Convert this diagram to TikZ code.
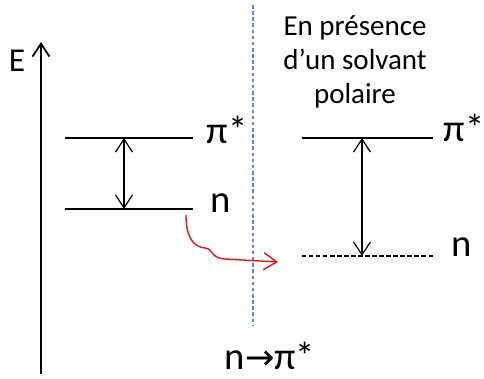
\documentclass[tikz,border=0pt]{standalone}
\usepackage{fontspec}
\setmainfont{Carlito}
\newfontfamily\symfont{DejaVu Sans}
\usepackage{tikz}
\usetikzlibrary{arrows.meta,calc,positioning}
\definecolor{solvblue}{RGB}{68,114,196}
\definecolor{transred}{RGB}{235,20,20}

\begin{document}
\begin{tikzpicture}[x=0.02cm,y=-0.02cm,
    level/.style={draw=black,line width=0.7pt},
    barb/.tip={Straight Barb[length=2.6mm,width=3.4mm]},
    big/.style={font=\fontsize{22}{26}\selectfont,inner sep=0pt}]
        \useasboundingbox (0,0) rectangle (484,379);
        \def\xa{65}
        \def\xb{193}
        \def\xc{302}
        \def\xd{433}
        %Levels
        \coordinate (pl1) at (\xa,138);
        \coordinate (pl2) at (\xb,138);
        \coordinate (nl1) at (\xa,209);
        \coordinate (nl2) at (\xb,209);
        \coordinate (pr1) at (\xc,138);
        \coordinate (pr2) at (\xd,138);
        \coordinate (nr1) at (\xc,256);
        \coordinate (nr2) at (\xd,256);
        \coordinate (al) at (124,138);
        \coordinate (bl) at (124,209);
        \coordinate (ar) at (362,138);
        \coordinate (br) at (362,256);
        %Axis
        \coordinate (e0) at (41,374);
        \coordinate (e1) at (41,42);
        \draw[line width=1pt,-barb] (e0) -- (e1);
        \node[font=\fontsize{19}{22}\selectfont,inner sep=0pt] (elab) at (17,61) {E};
        %Separator
        \coordinate (s0) at (253,5);
        \coordinate (s1) at (253,325);
        \draw[solvblue!85,line width=0.7pt,dash pattern=on 2pt off 1.5pt] (s0) -- (s1);
        \node[align=center,font=\fontsize{16.5}{19.5}\selectfont,inner sep=0pt] (solv) at (355,62)
          {\fontsize{16.5}{19.5}\selectfont En présence\\d’un solvant\\polaire};
        %Draw levels
        \draw[level] (pl1) -- (pl2);
        \draw[level,line width=1.3pt] (nl1) -- (nl2);
        \draw[level] (pr1) -- (pr2);
        \draw[level,dash pattern=on 2.5pt off 1.5pt] (nr1) -- (nr2);
        \draw[line width=0.7pt,barb-barb] (al) -- (bl);
        \draw[line width=0.7pt,barb-barb] (ar) -- (br);
        %Labels
        \node[big] (pil) at (227,130) {π*};
        \node[big] (nlab) at (221,203) {n};
        \node[big] (pir) at (464,128) {π*};
        \node[big] (nrab) at (462,247) {n};
        \node[big] (trans) at (270,356) {n{\symfont\fontsize{20}{24}\selectfont →}π*};
        %Shift
        \coordinate (r0) at (186,215);
        \coordinate (r1) at (278,262);
        \draw[transred,line width=0.8pt,-barb]
          (r0) .. controls (186,235) and (192,247) .. (205,248)
          .. controls (214,249) and (210,258) .. (225,259) -- (r1);
      \end{tikzpicture}
\end{document}
